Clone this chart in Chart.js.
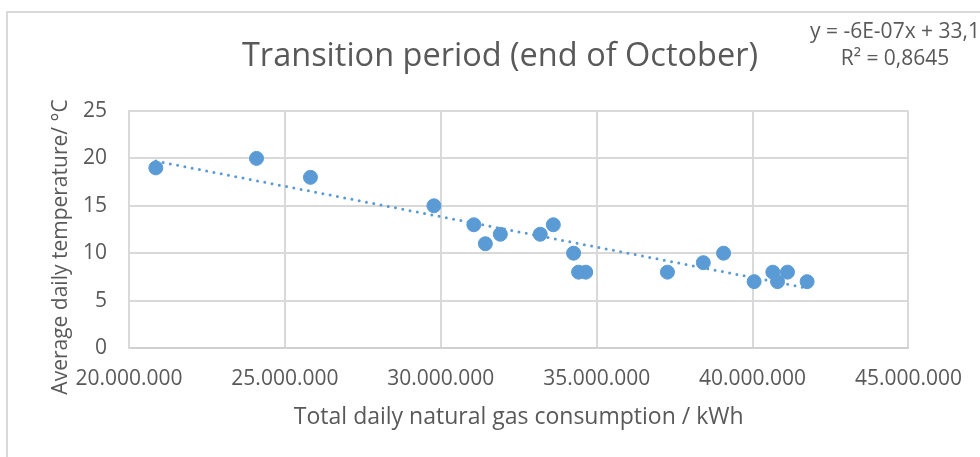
<!DOCTYPE html>
<html lang="en">
<head>
  <meta charset="UTF-8" />
  <title>Transition period (end of October)</title>
  <script src="https://cdn.jsdelivr.net/npm/chart.js"></script>
  <style>
    html, body { margin: 0; padding: 0; background: #fff; overflow: hidden; }
    .frame {
      position: absolute; left: 6px; top: 11px; width: 1200px; height: 600px;
      border-top: 2px solid #d9d9d9; border-left: 2px solid #d9d9d9;
    }
    #grafico { position: absolute; left: 0; top: 0; }
  </style>
</head>
<body>
  <div class="frame"></div>
  <canvas id="grafico" width="980" height="457"></canvas>

  <script>
    // daily gas consumption (kWh) and average temperature (°C)
    const gasUse = [
      20860000, 24090000, 25820000, 29780000, 31060000, 31430000, 31910000,
      33190000, 33610000, 34260000, 34420000, 34650000, 37270000, 38420000,
      39070000, 40050000, 40650000, 40800000, 41120000, 41750000
    ];
    const avgTemp = [19, 20, 18, 15, 13, 11, 12, 12, 13, 10, 8, 8, 8, 9, 10, 7, 8, 7, 8, 7];

    const xTicks = [20000000, 25000000, 30000000, 35000000, 40000000, 45000000];
    const yTicks = [0, 5, 10, 15, 20, 25];

    const chartTitle = 'Transition period (end of October)';
    const xTitle = 'Total daily natural gas consumption / kWh';
    const yTitle = 'Average daily temperature/ °C';
    const equationLines = ['y = -6E-07x + 33,1', 'R² = 0,8645'];

    const blue = '#5b9bd5';
    const grey = '#595959';
    const fontFamily = "'Open Sans', 'Noto Sans', sans-serif";

    // linear trend line (least squares) over the data range, like Excel does
    const n = gasUse.length;
    const mx = gasUse.reduce((a, b) => a + b, 0) / n;
    const my = avgTemp.reduce((a, b) => a + b, 0) / n;
    let sxy = 0, sxx = 0;
    for (let i = 0; i < n; i++) {
      sxy += (gasUse[i] - mx) * (avgTemp[i] - my);
      sxx += (gasUse[i] - mx) ** 2;
    }
    const slope = sxy / sxx;
    const intercept = my - slope * mx;
    const xMin = Math.min(...gasUse);
    const xMax = Math.max(...gasUse);
    const trend = [
      { x: xMin, y: intercept + slope * xMin },
      { x: xMax, y: intercept + slope * xMax }
    ];

    // title, y axis title and the trend equation
    const textos = {
      id: 'textos',
      afterDraw(chart) {
        const ctx = chart.ctx;
        ctx.save();
        ctx.fillStyle = grey;
        ctx.textAlign = 'center';
        ctx.textBaseline = 'middle';

        ctx.font = '32.5px ' + fontFamily;
        ctx.fillText(chartTitle, 500, 57);

        ctx.font = '21px ' + fontFamily;
        ctx.fillText(equationLines[0], 895, 32);
        ctx.fillText(equationLines[1], 895, 59);

        ctx.translate(61, 247);
        ctx.rotate(-Math.PI / 2);
        ctx.font = '21px ' + fontFamily;
        ctx.fillText(yTitle, 0, 0);
        ctx.restore();
      }
    };

    const ctx = document.getElementById('grafico').getContext('2d');
    new Chart(ctx, {
      type: 'scatter',
      data: {
        datasets: [
          {
            label: 'Linear trend',
            type: 'line',
            data: trend,
            borderColor: blue,
            borderWidth: 3,
            borderDash: [0, 7.4],
            borderCapStyle: 'round',
            pointRadius: 0,
            fill: false,
            order: 0
          },
          {
            label: 'Days',
            data: gasUse.map((g, i) => ({ x: g, y: avgTemp[i] })),
            backgroundColor: blue,
            borderColor: blue,
            pointRadius: 7,
            pointBorderWidth: 1,
            order: 1
          }
        ]
      },
      options: {
        responsive: false,
        animation: false,
        layout: { padding: { top: 111, right: 71, left: 0, bottom: 0 } },
        plugins: {
          legend: { display: false },
          tooltip: { enabled: false },
          title: { display: false }
        },
        scales: {
          x: {
            type: 'linear',
            min: xTicks[0],
            max: xTicks[xTicks.length - 1],
            afterFit: s => { s.height = 109; },
            afterBuildTicks: s => { s.ticks = xTicks.map(v => ({ value: v })); },
            grid: { color: '#d9d9d9', lineWidth: 2, drawTicks: false },
            border: { color: '#d0d0d0', width: 2 },
            ticks: {
              color: grey,
              padding: 18,
              font: { family: fontFamily, size: 21 },
              callback: v => Number(v).toLocaleString('de-DE')
            },
            title: {
              display: true,
              text: xTitle,
              color: grey,
              font: { family: fontFamily, size: 23 },
              padding: { top: 0, bottom: 26 }
            }
          },
          y: {
            min: yTicks[0],
            max: yTicks[yTicks.length - 1],
            afterFit: s => { s.width = 129; },
            afterBuildTicks: s => { s.ticks = yTicks.map(v => ({ value: v })); },
            grid: { color: '#d9d9d9', lineWidth: 2, drawTicks: false },
            border: { color: '#d9d9d9', width: 2 },
            ticks: {
              color: grey,
              padding: 22,
              font: { family: fontFamily, size: 21 }
            }
          }
        }
      },
      plugins: [textos]
    });
  </script>
</body>
</html>
